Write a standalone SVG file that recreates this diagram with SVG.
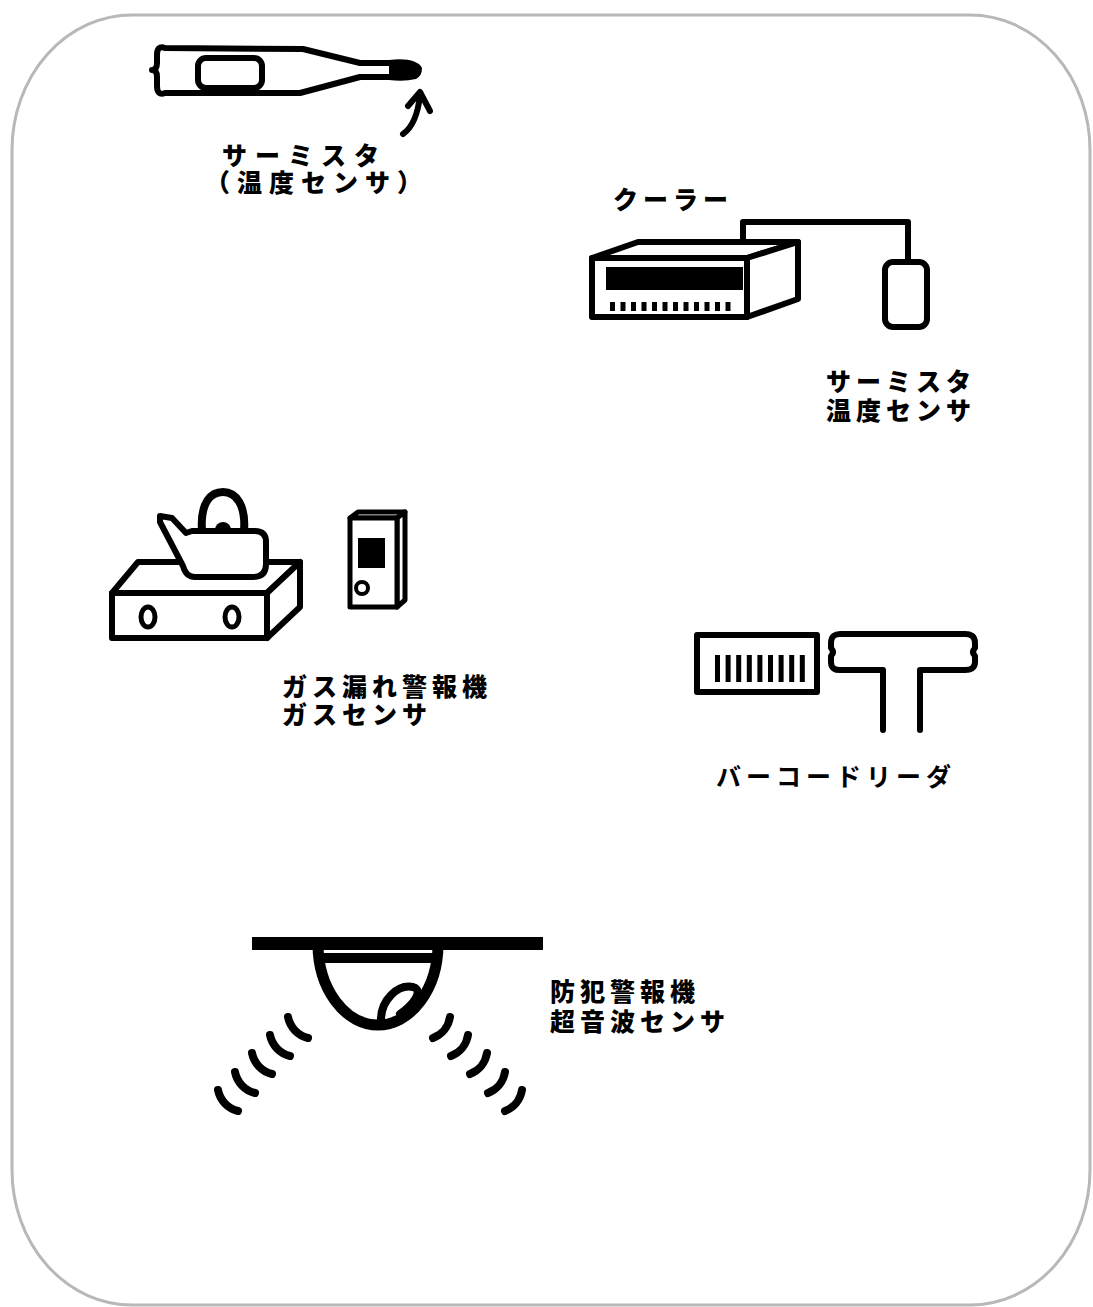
<svg xmlns="http://www.w3.org/2000/svg" width="1093" height="1307" viewBox="0 0 1093 1307">
  <style>
    .ink { fill: none; stroke: #000; stroke-linejoin: round; stroke-linecap: round; }
    .solid { fill: #fff; stroke: #000; stroke-linejoin: round; }
    .lbl { font-family: "Noto Sans CJK JP", "Noto Sans CJK SC", sans-serif; font-weight: 900; font-size: 25px; letter-spacing: 5px; fill: #000; }
    .wave { fill: none; stroke: #000; stroke-width: 8; stroke-linecap: round; }
  </style>

  <rect width="1093" height="1307" fill="#fff"/>
  <!-- frame -->
  <rect x="12" y="15" width="1078" height="1290" rx="120" ry="135" fill="none" stroke="#b8b8b8" stroke-width="3"/>

  <!-- clinical thermometer -->
  <g id="thermometer">
    <path class="ink" stroke-width="6" d="M165,48 L303,49 L360,63 L392,63 M392,77 L360,77 L300,93 L165,93 Q157,96 157,86 L157,77 Q157,70 152,70 Q157,70 157,63 L157,55 Q157,45 165,48"/>
    <rect class="ink" x="198" y="58" width="64" height="30" rx="8" stroke-width="6"/>
    <path d="M389,60 Q416,57 422,68 Q422,76 416,79 Q404,82 389,80 Z" fill="#000"/>
    <path class="ink" stroke-width="6" d="M403,134 C413,127 418,114 420,95 M408,106 L420,92 L430,111"/>
    <text class="lbl" x="222" y="165" style="letter-spacing:8px">サーミスタ</text>
    <text class="lbl" x="205" y="192" style="letter-spacing:7px">（温度センサ）</text>
  </g>

  <!-- air conditioner -->
  <g id="cooler">
    <text class="lbl" x="613" y="209">クーラー</text>
    <path class="ink" stroke-width="6" d="M743,242 V222 H908 V262"/>
    <polygon class="solid" stroke-width="6" points="592,258 638,242 798,242 747,258"/>
    <polygon class="solid" stroke-width="6" points="747,258 798,242 798,299 747,317"/>
    <rect class="solid" x="592" y="258" width="155" height="59" stroke-width="6"/>
    <rect x="606" y="267" width="137" height="23" fill="#000"/>
    <g fill="#000">
      <rect x="610" y="302" width="5" height="9"/><rect x="620.5" y="302" width="5" height="9"/>
      <rect x="631" y="302" width="5" height="9"/><rect x="641.5" y="302" width="5" height="9"/>
      <rect x="652" y="302" width="5" height="9"/><rect x="662.5" y="302" width="5" height="9"/>
      <rect x="673" y="302" width="5" height="9"/><rect x="683.5" y="302" width="5" height="9"/>
      <rect x="694" y="302" width="5" height="9"/><rect x="704.5" y="302" width="5" height="9"/>
      <rect x="715" y="302" width="5" height="9"/><rect x="725.5" y="302" width="5" height="9"/>
    </g>
    <rect class="solid" x="885" y="262" width="42" height="65" rx="8" stroke-width="6"/>
    <text class="lbl" x="826" y="391">サーミスタ</text>
    <text class="lbl" x="826" y="420">温度センサ</text>
  </g>

  <!-- gas stove with kettle and leak alarm -->
  <g id="gas-alarm">
    <polygon class="solid" stroke-width="6" points="112,593 138,562 300,562 267,593"/>
    <polygon class="solid" stroke-width="6" points="267,593 300,562 300,607 267,638"/>
    <rect class="solid" x="112" y="593" width="155" height="45" stroke-width="6"/>
    <ellipse class="ink" cx="148" cy="617" rx="7" ry="10" stroke-width="5"/>
    <ellipse class="ink" cx="232" cy="617" rx="7" ry="10" stroke-width="5"/>
    <path class="ink" stroke-width="8" d="M202,531 C200,502 211,492 223,492 C236,492 246,505 244,531"/>
    <path class="solid" stroke-width="6" d="M160,516 L172,518 L186,533 L192,531 L255,531 Q266,531 266,542 L266,564 Q266,577 253,577 L195,577 Q186,577 183,566 L160,522 Z"/>
    <path d="M215,530 A8,8 0 0 1 231,530 Z" fill="#000"/>
    <polygon class="solid" stroke-width="5" points="350,518 358,512 405,512 397,518"/>
    <polygon class="solid" stroke-width="5" points="397,518 405,512 405,600 397,607"/>
    <rect class="solid" x="350" y="518" width="47" height="89" stroke-width="5"/>
    <rect x="358" y="538" width="27" height="30" fill="#000"/>
    <circle class="ink" cx="362" cy="588" r="6" stroke-width="4"/>
    <text class="lbl" x="282" y="696">ガス漏れ警報機</text>
    <text class="lbl" x="282" y="724">ガスセンサ</text>
  </g>

  <!-- bar code and reader -->
  <g id="barcode-reader">
    <rect class="ink" x="697" y="635" width="120" height="57" stroke-width="6"/>
    <g fill="#000">
      <rect x="715" y="655" width="5" height="27"/><rect x="725.6" y="655" width="5" height="27"/>
      <rect x="736.2" y="655" width="5" height="27"/><rect x="746.8" y="655" width="5" height="27"/>
      <rect x="757.4" y="655" width="5" height="27"/><rect x="768" y="655" width="5" height="27"/>
      <rect x="778.6" y="655" width="5" height="27"/><rect x="789.2" y="655" width="5" height="27"/>
      <rect x="799.8" y="655" width="5" height="27"/>
    </g>
    <path class="ink" stroke-width="6" stroke-linecap="butt" d="M883,730 V670 H842 Q831,671 831,662 L831,656 Q835,652 831,648 L831,643 Q831,633 842,634 H963 Q975,633 975,643 L975,648 Q971,652 975,656 L975,662 Q975,671 963,670 H920 V730"/>
    <text class="lbl" x="716" y="786" style="font-weight:700">バーコードリーダ</text>
  </g>

  <!-- ceiling-mounted ultrasonic burglar alarm -->
  <g id="burglar-alarm">
    <rect x="252" y="937" width="291" height="13" fill="#000"/>
    <path class="ink" stroke-width="11" d="M318,944 A60,81 0 0 0 438,944"/>
    <line x1="318" y1="958" x2="438" y2="958" stroke="#000" stroke-width="10"/>
    <path class="ink" stroke-width="8" d="M381,1022 C380,1000 398,984 413,987 C424,990 414,1004 400,1014"/>
    <g class="wave">
      <path d="M288,1017 A27,27 0 0 0 308,1038"/>
      <path d="M270,1035 A27,27 0 0 0 290,1056"/>
      <path d="M252,1053 A27,27 0 0 0 272,1074"/>
      <path d="M235,1072 A27,27 0 0 0 255,1093"/>
      <path d="M218,1090 A27,27 0 0 0 238,1111"/>
      <path d="M450,1017 A27,27 0 0 1 433,1038"/>
      <path d="M468,1035 A27,27 0 0 1 451,1056"/>
      <path d="M487,1053 A27,27 0 0 1 470,1074"/>
      <path d="M505,1072 A27,27 0 0 1 488,1093"/>
      <path d="M522,1090 A27,27 0 0 1 505,1111"/>
    </g>
    <text class="lbl" x="550" y="1001">防犯警報機</text>
    <text class="lbl" x="550" y="1031">超音波センサ</text>
  </g>
</svg>
